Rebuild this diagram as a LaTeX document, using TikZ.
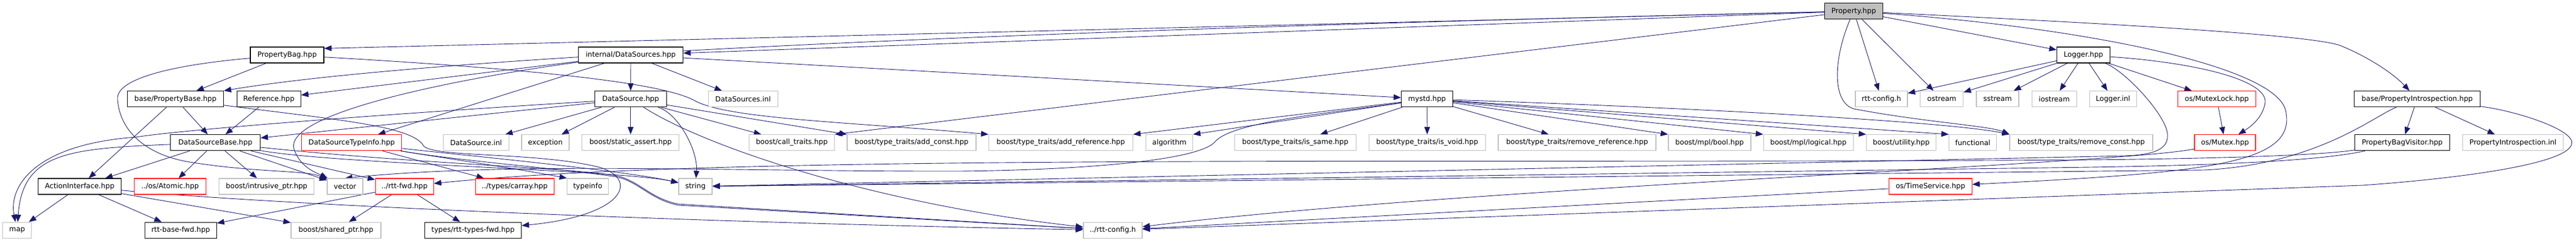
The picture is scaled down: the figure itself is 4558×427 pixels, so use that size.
\documentclass[tikz,border=0pt]{standalone}
\usepackage{fontspec}
\setmainfont{DejaVu Sans}
\usetikzlibrary{arrows.meta}
\pgfdeclarelayer{bg}
\pgfsetlayers{bg,main}
\definecolor{edgec}{RGB}{25,25,112}
\definecolor{grayb}{RGB}{191,191,191}
\tikzset{
  nd/.style={draw=black, fill=white, line width=1.2pt, minimum height=28pt, inner sep=0pt, font=\fontsize{12.5}{15}\selectfont},
  ext/.style={nd, draw=grayb},
  trunc/.style={nd, draw=red},
  root/.style={nd, fill=grayb},
  e/.style={draw=edgec, line width=0.9pt, -{Triangle[length=13pt,width=10pt]}},
}
\begin{document}
\begin{tikzpicture}[x=1pt,y=-1pt]
\useasboundingbox (0,0) rectangle (4558,427);
% row 0
\node[root,minimum width=103pt] (P) at (3280,19.7) {Property.hpp};
% row 1
\node[nd,minimum width=130pt] (PB) at (508,97) {PropertyBag.hpp};
\node[nd,minimum width=185pt] (IDS) at (1116,97) {internal/DataSources.hpp};
\node[nd,minimum width=94pt] (LOG) at (3686.5,97) {Logger.hpp};
% row 2
\node[nd,minimum width=170pt] (PBase) at (310.5,174.7) {base/PropertyBase.hpp};
\node[nd,minimum width=113pt] (Ref) at (475.7,174.7) {Reference.hpp};
\node[nd,minimum width=127pt] (DS) at (1115.8,174.7) {DataSource.hpp};
\node[ext,minimum width=123pt] (DSinl) at (1314.7,174.7) {DataSources.inl};
\node[nd,minimum width=91pt] (mystd) at (2525,174.7) {mystd.hpp};
\node[ext,minimum width=92pt] (rttcfg) at (3329,174.7) {rtt-config.h};
\node[ext,minimum width=76pt] (ostr) at (3435.8,174.7) {ostream};
\node[ext,minimum width=75pt] (sstr) at (3534.5,174.7) {sstream};
\node[ext,minimum width=79pt] (iostr) at (3634.7,174.7) {iostream};
\node[ext,minimum width=83pt] (loginl) at (3738.7,174.7) {Logger.inl};
\node[trunc,minimum width=138pt] (mlock) at (3922.5,174.7) {os/MutexLock.hpp};
\node[nd,minimum width=223pt] (PI) at (4277,174.7) {base/PropertyIntrospection.hpp};
% row 3
\node[nd,minimum width=159pt] (DSB) at (381,251.7) {DataSourceBase.hpp};
\node[trunc,minimum width=177pt] (DSTI) at (622.3,251.7) {DataSourceTypeInfo.hpp};
\node[ext,minimum width=116pt] (dsinl2) at (842.3,251.7) {DataSource.inl};
\node[ext,minimum width=84pt] (exc) at (965,251.7) {exception};
\node[ext,minimum width=172pt] (sassert) at (1115.8,251.7) {boost/static\_assert.hpp};
\node[ext,minimum width=151pt] (calltr) at (1401,251.7) {boost/call\_traits.hpp};
\node[ext,minimum width=228pt] (addc) at (1613,251.7) {boost/type\_traits/add\_const.hpp};
\node[ext,minimum width=255pt] (addr) at (1877,251.7) {boost/type\_traits/add\_reference.hpp};
\node[ext,minimum width=83pt] (algo) at (2069,251.7) {algorithm};
\node[ext,minimum width=215pt] (issame) at (2291.8,251.7) {boost/type\_traits/is\_same.hpp};
\node[ext,minimum width=206pt] (isvoid) at (2525.3,251.7) {boost/type\_traits/is\_void.hpp};
\node[ext,minimum width=279pt] (remref) at (2790.5,251.7) {boost/type\_traits/remove\_reference.hpp};
\node[ext,minimum width=146pt] (mbool) at (3025,251.7) {boost/mpl/bool.hpp};
\node[ext,minimum width=159pt] (mlogic) at (3199.8,251.7) {boost/mpl/logical.hpp};
\node[ext,minimum width=123pt] (util) at (3364,251.7) {boost/utility.hpp};
\node[ext,minimum width=84pt] (func) at (3490.7,251.7) {functional};
\node[ext,minimum width=253pt] (remc) at (3682.5,251.7) {boost/type\_traits/remove\_const.hpp};
\node[trunc,minimum width=108pt] (mutex) at (3937,251.7) {os/Mutex.hpp};
\node[nd,minimum width=168pt] (PBV) at (4250.5,251.7) {PropertyBagVisitor.hpp};
\node[ext,minimum width=178pt] (PIinl) at (4446.5,251.7) {PropertyIntrospection.inl};
% row 4
\node[nd,minimum width=147pt] (AI) at (141,329) {ActionInterface.hpp};
\node[trunc,minimum width=127pt] (atomic) at (301,329) {../os/Atomic.hpp};
\node[ext,minimum width=168pt] (intr) at (471.8,329) {boost/intrusive\_ptr.hpp};
\node[ext,minimum width=63pt] (vec) at (610.5,329) {vector};
\node[trunc,minimum width=103pt] (rttfwd) at (715.7,329) {../rtt-fwd.hpp};
\node[trunc,minimum width=139pt] (carray) at (910.7,329) {../types/carray.hpp};
\node[ext,minimum width=73pt] (tinfo) at (1040,329) {typeinfo};
\node[ext,minimum width=59pt] (str) at (1230.5,329) {string};
\node[trunc,minimum width=147pt] (tsvc) at (3415.7,329) {os/TimeService.hpp};
% row 5
\node[ext,minimum width=51pt] (map) at (30.3,406.3) {map};
\node[nd,minimum width=127pt] (rttbase) at (319.7,406.3) {rtt-base-fwd.hpp};
\node[ext,minimum width=159pt] (shptr) at (594.5,406.3) {boost/shared\_ptr.hpp};
\node[nd,minimum width=171pt] (typesfwd) at (837,406.3) {types/rtt-types-fwd.hpp};
\node[ext,minimum width=104pt] (rttcfg2) at (1969,406.3) {../rtt-config.h};

\begin{pgfonlayer}{bg}
% Property.hpp
\draw[e] (P) -- (PB.10);
\draw[e] (P) .. controls (1500,60) and (700,110) .. (PBase.north east);
\draw[e] (P) -- (IDS);
\draw[e] (P) -- (calltr.north east);
\draw[e] (P) -- (LOG);
\draw[e] (P) -- (rttcfg);
\draw[e] (P) -- (ostr);
\draw[e] (P) .. controls (3245,100) and (3240,180) .. (3280,192) .. controls (3400,215) and (3520,222) .. (remc.north west);
\draw[e] (P) .. controls (3700,40) and (4080,60) .. (4140,80) .. controls (4190,100) and (4235,130) .. (PI);
\draw[e] (P) .. controls (3700,50) and (4040,120) .. (4045,200) .. controls (4060,290) and (3900,305) .. (tsvc);
% Logger.hpp
\draw[e] (LOG) -- (rttcfg);
\draw[e] (LOG) -- (ostr);
\draw[e] (LOG) -- (sstr);
\draw[e] (LOG) -- (iostr);
\draw[e] (LOG) -- (loginl);
\draw[e] (LOG) -- (mlock);
\draw[e] (LOG) .. controls (3880,110) and (4010,140) .. (4008,180) .. controls (4005,205) and (3985,222) .. (mutex);
\draw[e] (LOG) .. controls (3760,125) and (3830,200) .. (3835,235) .. controls (3838,262) and (3815,273) .. (3760,275) -- (str);
\draw[e] (mlock) -- (mutex);
% PropertyIntrospection
\draw[e] (PI) -- (PBV);
\draw[e] (PI) -- (PIinl);
\draw[e] (PI) .. controls (4450,195) and (4560,230) .. (4550,255) .. controls (4540,290) and (4350,315) .. (4180,327) -- (rttcfg2);
\draw[e] (PI) .. controls (4200,205) and (4100,290) .. (3900,300) -- (str);
% PropertyBagVisitor
\draw[e] (PBV) .. controls (4100,275) and (3900,280) .. (3700,282) .. controls (2500,290) and (1300,270) .. (rttfwd);
\draw[e] (PBV) .. controls (4100,285) and (3900,292) .. (3700,295) -- (str);
% Mutex, TimeService
\draw[e] (mutex) .. controls (3750,290) and (2600,330) .. (rttcfg2);
\draw[e] (tsvc) -- (rttcfg2);
% mystd
\draw[e] (mystd) -- (addr.north east);
\draw[e] (mystd) -- (algo.north east);
\draw[e] (mystd) -- (issame);
\draw[e] (mystd) -- (isvoid);
\draw[e] (mystd) -- (remref);
\draw[e] (mystd) -- (mbool.north west);
\draw[e] (mystd) -- (mlogic.north west);
\draw[e] (mystd) -- (util.north west);
\draw[e] (mystd) -- (func.north west);
\draw[e] (mystd) .. controls (3000,190) and (3450,215) .. (remc.north west);
\draw[e] (mystd) .. controls (2350,200) and (2180,215) .. (2150,250) .. controls (2120,285) and (1900,300) .. (1700,302) .. controls (1300,303) and (900,285) .. (vec.north);
% internal/DataSources
\draw[e] (IDS) -- (DS);
\draw[e] (IDS) -- (DSinl);
\draw[e] (IDS) -- (mystd);
\draw[e] (IDS) -- (Ref);
\draw[e] (IDS) -- (DSTI);
\draw[e] (IDS) .. controls (800,140) and (505,200) .. (520,262) .. controls (530,295) and (560,305) .. (vec);
% DataSource
\draw[e] (DS) -- (dsinl2);
\draw[e] (DS) -- (exc);
\draw[e] (DS) -- (sassert);
\draw[e] (DS) -- (calltr);
\draw[e] (DS) -- (addc.north west);
\draw[e] (DS) .. controls (1200,200) and (1235,265) .. (str);
\draw[e] (DS) .. controls (1250,260) and (1550,360) .. (rttcfg2);
\draw[e] (DS) .. controls (700,200) and (330,228) .. (240,242) .. controls (60,255) and (15,330) .. (map);
\draw[e] (DS) -- (DSB);
% DataSourceBase
\draw[e] (DSB) -- (AI);
\draw[e] (DSB) -- (atomic);
\draw[e] (DSB) -- (intr);
\draw[e] (DSB) -- (vec);
\draw[e] (DSB) -- (rttfwd);
\draw[e] (DSB) .. controls (120,262) and (40,270) .. (map);
\draw[e] (DSB) .. controls (600,290) and (1100,300) .. (str);
\draw[e] (DSB) .. controls (750,290) and (1000,295) .. (1090,310) .. controls (1130,318) and (1150,350) .. (1200,360) -- (rttcfg2);
% DataSourceTypeInfo
\draw[e] (DSTI) -- (carray);
\draw[e] (DSTI) .. controls (760,275) and (900,295) .. (tinfo.north west);
\draw[e] (DSTI) .. controls (800,272) and (1100,300) .. (str);
\draw[e] (DSTI) .. controls (820,285) and (1000,298) .. (1090,312) .. controls (1130,320) and (1150,352) .. (1200,362) -- (rttcfg2);
% rtt-fwd
\draw[e] (rttfwd) -- (rttbase);
\draw[e] (rttfwd) -- (shptr);
\draw[e] (rttfwd) -- (typesfwd);
% ActionInterface
\draw[e] (AI) -- (map);
\draw[e] (AI) -- (rttbase);
\draw[e] (AI) -- (shptr);
\draw[e] (AI) .. controls (500,362) and (1200,392) .. (rttcfg2);
% PropertyBase
\draw[e] (PBase) -- (AI);
\draw[e] (PBase) -- (DSB);
\draw[e] (PBase) .. controls (600,212) and (730,222) .. (750,258) .. controls (770,278) and (950,268) .. (1060,295) .. controls (1130,315) and (1110,380) .. (typesfwd);
% PropertyBag
\draw[e] (PB) -- (PBase);
\draw[e] (PB) .. controls (300,115) and (205,140) .. (208,175) .. controls (211,225) and (250,270) .. (330,285) .. controls (450,305) and (540,300) .. (vec);
\draw[e] (PB) .. controls (1000,125) and (1180,150) .. (1230,178) .. controls (1290,210) and (1500,215) .. (addr.north west);
% Reference
\draw[e] (Ref) -- (DSB);
\end{pgfonlayer}
\end{tikzpicture}
\end{document}
